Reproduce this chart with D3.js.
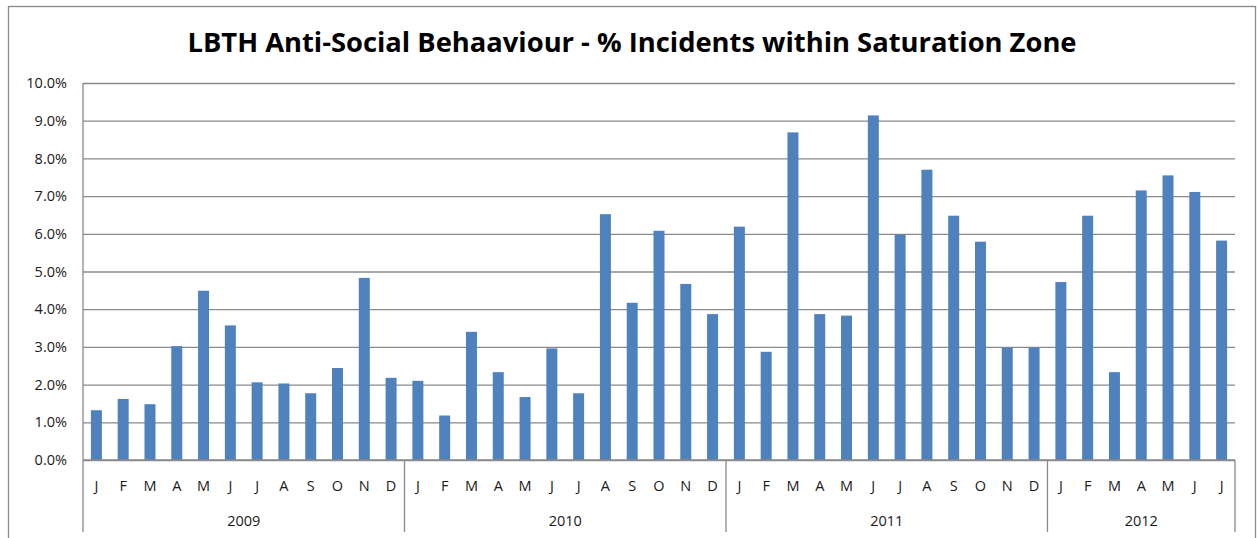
<!DOCTYPE html>
<html>
<head>
<meta charset="utf-8">
<script src="https://cdn.jsdelivr.net/npm/d3@7"></script>
<style>
  body { margin: 0; background: #fff; }
  text { font-family: "Open Sans", "Noto Sans", sans-serif; fill: #1a1a1a; }
  .grid line { stroke: #8a8a8a; stroke-width: 1.3; }
  .title { font-weight: bold; font-size: 26px; fill: #000; }
</style>
</head>
<body>
<div id="chart"></div>
<script>
// data
var years = ["2009", "2010", "2011", "2012"];
var monthLetters = ["J", "F", "M", "A", "M", "J", "J", "A", "S", "O", "N", "D"];
var pct2009 = [1.32, 1.62, 1.48, 3.02, 4.49, 3.57, 2.06, 2.03, 1.77, 2.44, 4.83, 2.18];
var pct2010 = [2.10, 1.18, 3.40, 2.33, 1.67, 2.96, 1.77, 6.52, 4.17, 6.08, 4.67, 3.87];
var pct2011 = [6.19, 2.87, 8.69, 3.87, 3.83, 9.14, 5.98, 7.70, 6.48, 5.79, 2.98, 2.98];
var pct2012 = [4.72, 6.48, 2.33, 7.15, 7.55, 7.11, 5.82];
var yTicks = [0, 1, 2, 3, 4, 5, 6, 7, 8, 9, 10];

var series = [pct2009, pct2010, pct2011, pct2012];
var dataset = [];
series.forEach(function(vals, yi) {
  vals.forEach(function(v, mi) {
    dataset.push({ key: years[yi] + "-" + mi, year: years[yi], month: monthLetters[mi], value: v });
  });
});

function init() {
  var w = 1257;
  var h = 538;
  var left = 83, right = 1235, top = 83, bottom = 460;
  var labelSize = 14.5;

  var svg = d3.select("#chart")
    .append("svg")
    .attr("width", w)
    .attr("height", h);

  // outer chart border
  svg.append("rect")
    .attr("x", 8.5)
    .attr("y", 6.5)
    .attr("width", 1247)
    .attr("height", 545)
    .attr("fill", "none")
    .attr("stroke", "#8a8a8a")
    .attr("stroke-width", 1.3);

  svg.append("text")
    .attr("class", "title")
    .attr("x", 632)
    .attr("y", 52)
    .attr("text-anchor", "middle")
    .attr("textLength", 889)
    .attr("lengthAdjust", "spacingAndGlyphs")
    .text("LBTH Anti-Social Behaaviour - % Incidents within Saturation Zone");

  var xScale = d3.scaleBand()
    .domain(dataset.map(function(d) { return d.key; }))
    .range([left, right])
    .paddingInner(0.59)
    .paddingOuter(0.295);

  var yScale = d3.scaleLinear()
    .domain([0, 10])
    .range([bottom, top]);

  // gridlines + value labels
  var yAxis = d3.axisLeft(yScale)
    .tickValues(yTicks)
    .tickSize(-(right - left))
    .tickPadding(16)
    .tickFormat(function(d) { return d.toFixed(1) + "%"; });

  var gy = svg.append("g")
    .attr("class", "grid")
    .attr("transform", "translate(" + left + ",0)")
    .call(yAxis);
  gy.select(".domain").remove();
  gy.selectAll("text")
    .style("font-size", labelSize + "px");

  // bars
  svg.selectAll("rect.bar")
    .data(dataset)
    .enter()
    .append("rect")
    .attr("class", "bar")
    .attr("x", function(d) { return xScale(d.key); })
    .attr("y", function(d) { return yScale(d.value); })
    .attr("width", xScale.bandwidth())
    .attr("height", function(d) { return bottom - yScale(d.value); })
    .attr("fill", "#4f81bd");

  // category axis baseline and value axis line
  svg.append("line")
    .attr("x1", left).attr("x2", right)
    .attr("y1", bottom).attr("y2", bottom)
    .attr("stroke", "#8a8a8a").attr("stroke-width", 1.3);

  svg.append("line")
    .attr("x1", left).attr("x2", left)
    .attr("y1", top).attr("y2", 532)
    .attr("stroke", "#8a8a8a").attr("stroke-width", 1.3);

  // month labels
  svg.selectAll("text.month")
    .data(dataset)
    .enter()
    .append("text")
    .attr("class", "month")
    .attr("x", function(d) { return xScale(d.key) + xScale.bandwidth() / 2; })
    .attr("y", 491)
    .attr("text-anchor", "middle")
    .style("font-size", labelSize + "px")
    .text(function(d) { return d.month; });

  // year groups
  var step = xScale.step();
  var groups = [];
  var start = 0;
  series.forEach(function(vals, i) {
    groups.push({ year: years[i], x0: left + start * step, x1: left + (start + vals.length) * step });
    start += vals.length;
  });

  svg.selectAll("line.sep")
    .data(groups)
    .enter()
    .append("line")
    .attr("class", "sep")
    .attr("x1", function(d) { return d.x1; })
    .attr("x2", function(d) { return d.x1; })
    .attr("y1", bottom)
    .attr("y2", 532)
    .attr("stroke", "#8a8a8a")
    .attr("stroke-width", 1.3);

  svg.selectAll("text.year")
    .data(groups)
    .enter()
    .append("text")
    .attr("class", "year")
    .attr("x", function(d) { return (d.x0 + d.x1) / 2; })
    .attr("y", 526)
    .attr("text-anchor", "middle")
    .style("font-size", labelSize + "px")
    .text(function(d) { return d.year; });
}

window.onload = init;
</script>
</body>
</html>
